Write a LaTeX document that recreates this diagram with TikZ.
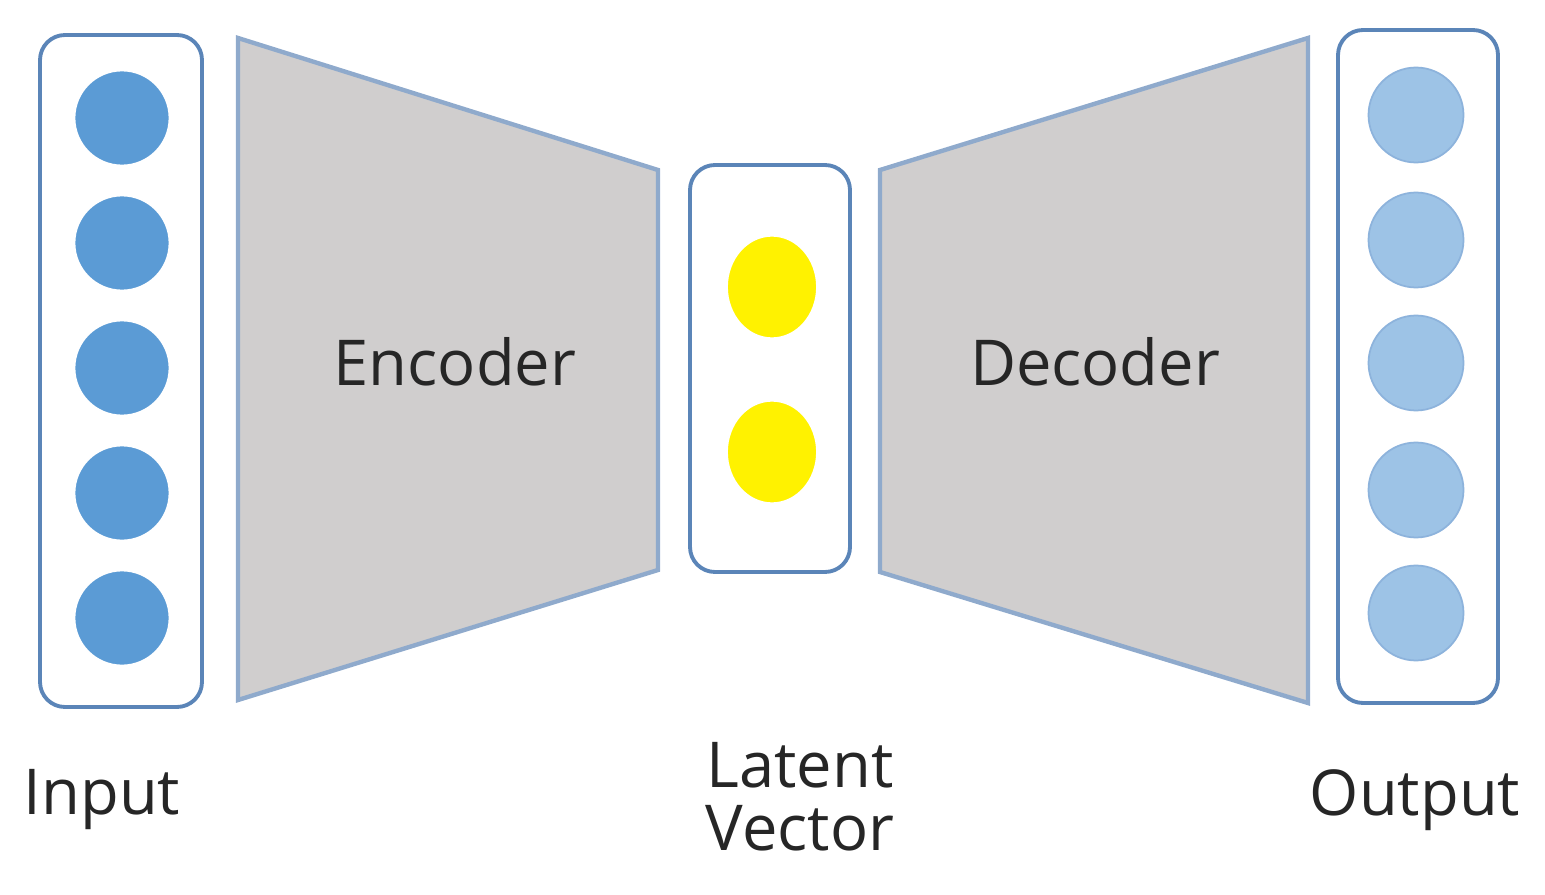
\documentclass[tikz,border=0pt]{standalone}
\usepackage{fontspec}
\setmainfont{Open Sans}
\begin{document}
\begin{tikzpicture}[x=0.02cm,y=-0.02cm,
  box/.style={draw=boxc,line width=2.2pt,rounded corners=0.5cm,fill=white},
  inc/.style={circle,fill=inblue,draw=white,line width=1pt,minimum width=1.9cm,inner sep=0},
  outc/.style={circle,fill=outblue,draw=outedge,line width=1pt,minimum width=1.9cm,inner sep=0},
  latc/.style={ellipse,fill=yellow,draw=white,line width=1pt,minimum width=1.8cm,minimum height=2.05cm,inner sep=0},
  trap/.style={fill=trapgray,draw=trapedge,line width=2.5pt},
  lbl/.style={font=\fontsize{36}{40}\selectfont,text=black!85}]
\definecolor{boxc}{HTML}{5B85B8}
\definecolor{inblue}{HTML}{5B9BD5}
\definecolor{outblue}{HTML}{9DC3E6}
\definecolor{outedge}{HTML}{8DB3DC}
\definecolor{trapgray}{HTML}{D0CECE}
\definecolor{trapedge}{HTML}{8FAACC}
\useasboundingbox (0,0) rectangle (1545,895);
\usetikzlibrary{shapes.geometric}
\draw[box] (40,35) rectangle (202,707);
\foreach \y [count=\i] in {118,243,368,493,618} \node[inc] (in\i) at (122,\y) {};
\draw[trap] (238,38) -- (658,170) -- (658,570) -- (238,700) -- cycle;
\node[lbl] (enc) at (455,362) {Encoder};
\draw[box] (690,165) rectangle (850,572);
\node[latc] (l1) at (772,287) {};
\node[latc] (l2) at (772,452) {};
\draw[trap] (880,170) -- (1308,38) -- (1308,703) -- (880,572) -- cycle;
\node[lbl] (dec) at (1095,362) {Decoder};
\draw[box] (1338,30) rectangle (1498,703);
\foreach \y [count=\i] in {115,240,363,490,613} \node[outc] (out\i) at (1416,\y) {};
\node[lbl] (inl) at (102,800) {Input};
\node[lbl,align=center] (lat) at (800,797) {Latent\\[-4pt]Vector};
\node[lbl] (outl) at (1415,800) {Output};
\end{tikzpicture}
\end{document}
